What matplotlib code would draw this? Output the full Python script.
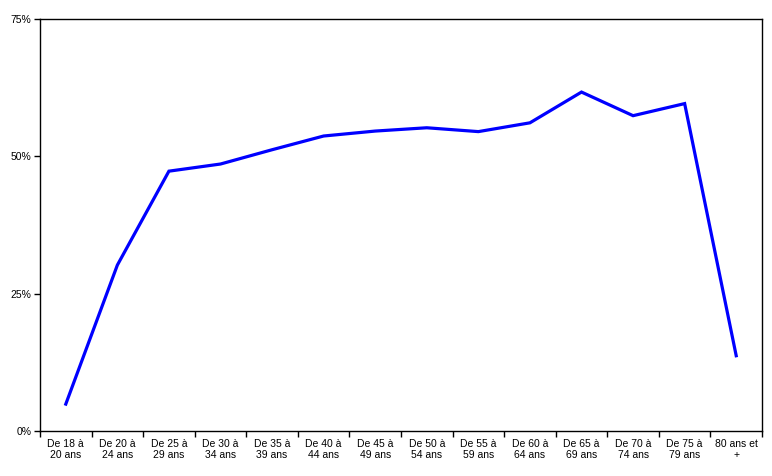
import matplotlib.pyplot as plt
import numpy as np
from matplotlib.ticker import FixedLocator

categories = ['De 18 à\n20 ans', 'De 20 à\n24 ans', 'De 25 à\n29 ans', 'De 30 à\n34 ans',
              'De 35 à\n39 ans', 'De 40 à\n44 ans', 'De 45 à\n49 ans', 'De 50 à\n54 ans',
              'De 55 à\n59 ans', 'De 60 à\n64 ans', 'De 65 à\n69 ans', 'De 70 à\n74 ans',
              'De 75 à\n79 ans', '80 ans et\n+']
values = [4.9, 30.2, 47.3, 48.6, 51.2, 53.7, 54.6, 55.2, 54.5, 56.1, 61.7, 57.4, 59.6, 13.7]
y_ticks = [0, 25, 50, 75]

plt.rcParams['font.family'] = ['Liberation Sans', 'DejaVu Sans']

fig = plt.figure(figsize=(7.72, 4.76), dpi=100)
ax = fig.add_axes([40/772, 45/476, 722/772, 412/476])

xs = np.arange(len(values))
ax.plot(xs, values, color='#0000ff', linewidth=2.3, solid_joinstyle='miter')

ax.set_xlim(-0.5, len(values) - 0.5)
ax.set_ylim(0, 75)
ax.set_yticks(y_ticks)
ax.set_yticklabels([f'{t}%' for t in y_ticks], fontsize=7.5)
ax.xaxis.set_major_locator(FixedLocator(np.arange(-0.5, len(values), 1)))
ax.xaxis.set_major_formatter(plt.NullFormatter())
ax.xaxis.set_minor_locator(FixedLocator(xs))
ax.set_xticklabels(categories, minor=True, fontsize=7.5, linespacing=1.1)
ax.tick_params(axis='x', which='minor', length=0, pad=6)
ax.tick_params(axis='x', which='major', length=4, direction='out', width=1)
ax.tick_params(axis='y', length=4, direction='out', width=1, pad=2)
for s in ax.spines.values():
    s.set_linewidth(1)
    s.set_color('black')

fig.savefig('out.png', dpi=100)
